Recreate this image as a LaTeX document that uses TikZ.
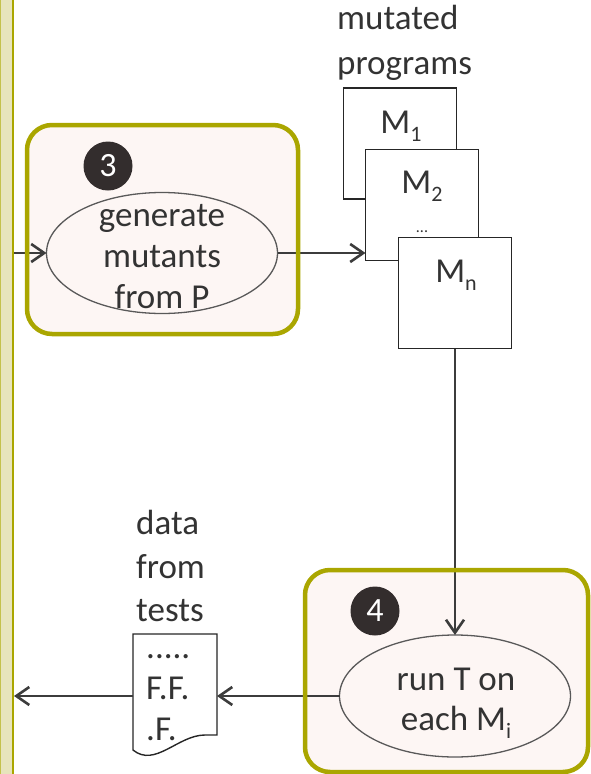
\documentclass[tikz,border=0pt]{standalone}
\usepackage{fontspec}
\setmainfont{Carlito}
\usetikzlibrary{arrows.meta,shapes.geometric}
\definecolor{barfill}{HTML}{E7E4BC}
\definecolor{olivec}{HTML}{AAA600}
\definecolor{pinkfill}{HTML}{FDF6F4}
\definecolor{circfill}{HTML}{332D2D}
\definecolor{inkc}{HTML}{333333}
\definecolor{linec}{HTML}{3C3C3C}
\newcommand\Msub[1]{M\raisebox{-8pt}{\fontsize{22}{22}\selectfont #1}}
\begin{document}
\begin{tikzpicture}[x=1pt,y=-1pt,
  txt/.style={text=inkc, font=\fontsize{35}{41}\selectfont, inner sep=0pt},
  stepfill/.style={fill=pinkfill, rounded corners=25pt, inner sep=0pt, outer sep=0pt},
  stepline/.style={draw=olivec, line width=4.5pt, rounded corners=25pt},
  proc/.style={ellipse, draw=black!65, line width=1.3pt, fill=pinkfill, inner sep=0pt, outer sep=0pt},
  numc/.style={circle, fill=circfill, text=white, minimum size=49pt, inner sep=0pt, font=\fontsize{34}{34}\selectfont},
  mbox/.style={draw=black!85, line width=1.4pt, fill=white, minimum width=113pt, minimum height=111pt, inner sep=0pt, outer sep=0pt},
  conn/.style={draw=linec, line width=2pt, -{Straight Barb[length=13pt,width=18pt,line width=2.6pt]}},
]
\useasboundingbox (0,0) rectangle (590,774);
% left bar
\node[fill=barfill, minimum width=14pt, minimum height=774pt, inner sep=0pt, outer sep=0pt, anchor=north west] (bar) at (0,0) {};
\draw[olivec, line width=2pt] (13,0) -- (13,774);
\draw[olivec!70, line width=0.8pt] (0.4,0) -- (0.4,774);
% step boxes (fill)
\node[stepfill, minimum width=271pt, minimum height=209pt] (box3) at (162.5,229.5) {};
\node[stepfill, minimum width=283pt, minimum height=202pt] (box4) at (446.5,671) {};
% ellipses
\node[proc, minimum width=231pt, minimum height=121pt] (e3) at (162,253) {};
\node[txt, align=center] (t3) at (162,257) {generate\\mutants\\from P};
\node[proc, minimum width=231pt, minimum height=122pt] (e4) at (455,696) {};
\node[txt, align=center, font=\fontsize{35}{40}\selectfont] (t4) at (456,703) {run T on\\each \Msub{i}};
% number circles
\node[numc] (n3) at (108,166) {3};
\node[numc] (n4) at (375,611) {4};
% mutated programs
\node[txt, anchor=west, align=left, font=\fontsize{35}{45}\selectfont] (mp) at (337,43) {mutated\\programs};
\node[mbox] (m1) at (400,143.5) {};
\node[txt, anchor=base] (l1) at (401,133) {\Msub{1}};
\node[mbox] (m2) at (422,205) {};
\node[txt, anchor=base] (l2) at (422,193) {\Msub{2}};
\node[txt, anchor=base, font=\fontsize{16}{16}\selectfont] (dots) at (422,232) {...};
\node[mbox] (mn) at (455,293) {};
\node[txt, anchor=base] (ln) at (456,282) {\Msub{n}};
% data from tests
\node[txt, anchor=west, align=left, font=\fontsize{35}{43.5}\selectfont] (dft) at (136,566) {data\\from\\tests};
\node[inner sep=0pt, outer sep=0pt, minimum width=84pt, minimum height=116pt, anchor=north west] (doc) at (133,634) {};
\draw[draw=black!85, line width=1.4pt, fill=white] (doc.north west) -- (doc.north east) -- (217,735) -- (205,735) .. controls (178,735) and (155,768) .. (doc.south west) -- cycle;
\node[txt, anchor=west, align=left, font=\fontsize{35}{41}\selectfont] (dt) at (146,698) {.....\\F.F.\\.F.};
% connectors
\draw[conn] (bar.east |- e3.west) -- (e3.west);
\draw[conn] (e3.east) -- (e3.east -| m2.west);
\draw[conn] (mn.south) -- (e4.north);
\draw[conn] (e4.west) -- (e4.west -| doc.east);
\draw[conn] (e4.west -| doc.west) -- (e4.west -| bar.east);
% step box borders
\draw[stepline] (box3.north west) rectangle (box3.south east);
\draw[stepline] (box4.north west) rectangle (box4.south east);
\end{tikzpicture}
\end{document}
